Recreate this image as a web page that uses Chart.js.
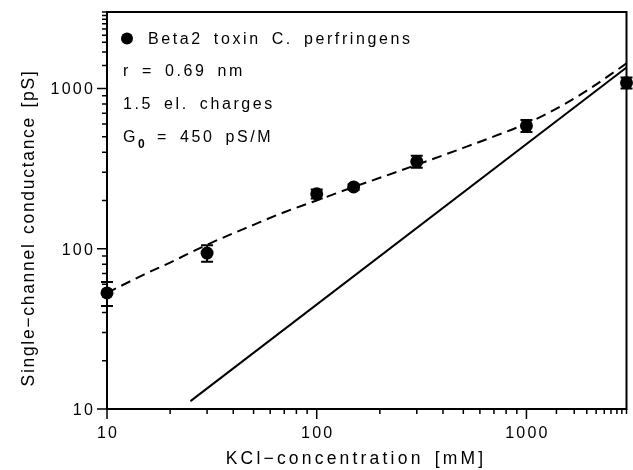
<!DOCTYPE html>
<html>
<head>
<meta charset="utf-8">
<script src="https://cdn.jsdelivr.net/npm/chart.js"></script>
<style>
  html, body { margin: 0; padding: 0; background: #fff; }
  #wrap { width: 633px; height: 470px; }
</style>
</head>
<body>
<div id="wrap"><canvas id="chart"></canvas></div>
<script>
// measured single-channel conductance
const concentration = [10, 30, 100, 150, 300, 1000, 3000];
const conductance = [53, 94, 220, 243, 350, 585, 1085];
const conductanceErr = [9, 11, 14, 10, 30, 50, 85];

// dashed fit curve
const fitConc = [10, 15, 20, 30, 50, 70, 100, 150, 200, 300, 500, 700, 1000, 1500, 2000, 3000];
const fitCond = [53, 69, 82, 106, 141, 169, 200, 243, 277, 334, 426, 502, 604, 790, 995, 1433];

// solid line (G0 * c)
const lineConc = [25, 3000];
const lineCond = [11.2, 1350];

const majorTicks = [10, 100, 1000];
const minorTicks = [20, 30, 40, 50, 60, 70, 80, 90,
                    200, 300, 400, 500, 600, 700, 800, 900,
                    1390, 1690, 1940, 2150, 2350, 2530, 2700, 2850, 3000];

const seriesLabel = 'Beta2 toxin C. perfringens';
const notes = ['r = 0.69 nm', '1.5 el. charges'];
const xTitle = 'KCl\u2212concentration [mM]';
const yTitle = 'Single\u2212channel conductance [pS]';

const FONT = '"Liberation Sans", Arial, sans-serif';

const decor = {
    id: 'decor',
    afterDatasetsDraw(chart) {
        const {ctx, scales: {x, y}} = chart;
        ctx.save();
        ctx.strokeStyle = '#000';
        ctx.lineWidth = 2;
        concentration.forEach((c, i) => {
            const px = x.getPixelForValue(c);
            const top = y.getPixelForValue(conductance[i] + conductanceErr[i]);
            const bot = y.getPixelForValue(conductance[i] - conductanceErr[i]);
            ctx.beginPath();
            ctx.moveTo(px, top); ctx.lineTo(px, bot);
            ctx.moveTo(px - 6, top); ctx.lineTo(px + 6, top);
            ctx.moveTo(px - 6, bot); ctx.lineTo(px + 6, bot);
            ctx.stroke();
        });
        ctx.restore();
    },
    afterDraw(chart) {
        const {ctx, chartArea: a, scales: {x, y}} = chart;
        ctx.save();
        ctx.strokeStyle = '#000';
        ctx.fillStyle = '#000';
        ctx.lineWidth = 2;
        ctx.strokeRect(a.left, a.top, a.right - a.left, a.bottom - a.top);

        // tick marks, outward on left and bottom
        ctx.lineWidth = 1.5;
        ctx.beginPath();
        majorTicks.forEach(v => {
            const px = x.getPixelForValue(v), py = y.getPixelForValue(v);
            ctx.moveTo(px, a.bottom); ctx.lineTo(px, a.bottom + 10);
            ctx.moveTo(a.left, py); ctx.lineTo(a.left - 10, py);
        });
        minorTicks.forEach(v => {
            const px = x.getPixelForValue(v), py = y.getPixelForValue(v);
            ctx.moveTo(px, a.bottom); ctx.lineTo(px, a.bottom + 5);
            ctx.moveTo(a.left, py); ctx.lineTo(a.left - 5, py);
        });
        ctx.stroke();

        ctx.letterSpacing = '2.2px';
        ctx.font = '16px ' + FONT;
        ctx.textBaseline = 'alphabetic';
        majorTicks.forEach(v => {
            ctx.textAlign = 'center';
            ctx.fillText(String(v), x.getPixelForValue(v) + 1, 438);
            ctx.textAlign = 'right';
            ctx.fillText(String(v), a.left - 12, y.getPixelForValue(v) + 6);
        });

        // axis titles
        ctx.font = '17.5px ' + FONT;
        ctx.textAlign = 'center';
        ctx.letterSpacing = '3.2px';
        ctx.wordSpacing = '3px';
        ctx.fillText(xTitle, 356, 464);
        ctx.save();
        ctx.translate(34, 228);
        ctx.rotate(-Math.PI / 2);
        ctx.letterSpacing = '1.7px';
        ctx.wordSpacing = '2px';
        ctx.fillText(yTitle, 0, 0);
        ctx.restore();

        // legend and annotations
        ctx.beginPath();
        ctx.arc(127, 38.5, 6, 0, Math.PI * 2);
        ctx.fill();
        ctx.font = '16px ' + FONT;
        ctx.textAlign = 'left';
        ctx.letterSpacing = '2.6px';
        ctx.wordSpacing = '4px';
        ctx.fillText(seriesLabel, 148, 44);
        ctx.fillText(notes[0], 123, 76);
        ctx.fillText(notes[1], 123, 108.5);
        ctx.fillText('G', 123, 141.5);
        ctx.font = 'bold 12px ' + FONT;
        ctx.letterSpacing = '0px';
        ctx.fillText('0', 138, 147.5);
        ctx.font = '16px ' + FONT;
        ctx.letterSpacing = '2.6px';
        ctx.fillText('= 450 pS/M', 157, 141.5);
        ctx.restore();
    }
};

new Chart(document.getElementById('chart'), {
    type: 'line',
    data: {
        datasets: [
            {
                label: seriesLabel,
                data: concentration.map((c, i) => ({x: c, y: conductance[i]})),
                showLine: false,
                pointRadius: 6.5,
                pointBackgroundColor: '#000',
                pointBorderColor: '#000',
                pointBorderWidth: 0,
                clip: false
            },
            {
                label: 'fit',
                data: fitConc.map((c, i) => ({x: c, y: fitCond[i]})),
                borderColor: '#000',
                borderWidth: 2,
                borderDash: [10, 6],
                pointRadius: 0,
                cubicInterpolationMode: 'monotone',
                clip: false
            },
            {
                label: 'G0 c',
                data: lineConc.map((c, i) => ({x: c, y: lineCond[i]})),
                borderColor: '#000',
                borderWidth: 2,
                pointRadius: 0,
                clip: false
            }
        ]
    },
    options: {
        responsive: true,
        maintainAspectRatio: false,
        animation: false,
        layout: { padding: { top: 12, right: 6, left: 0, bottom: 0 } },
        plugins: {
            legend: { display: false },
            tooltip: { enabled: false }
        },
        scales: {
            x: {
                type: 'logarithmic',
                min: 10,
                max: 3000,
                grid: { display: false, drawTicks: false },
                border: { display: false },
                ticks: { display: false },
                afterFit: (s) => { s.height = 61; }
            },
            y: {
                type: 'logarithmic',
                min: 10,
                max: 3000,
                grid: { display: false, drawTicks: false },
                border: { display: false },
                ticks: { display: false },
                afterFit: (s) => { s.width = 107; }
            }
        }
    },
    plugins: [decor]
});
</script>
</body>
</html>
